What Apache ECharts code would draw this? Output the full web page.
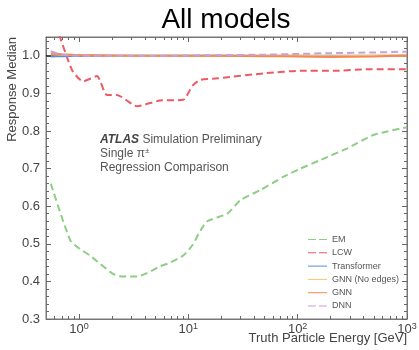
<!DOCTYPE html>
<html>
<head>
<meta charset="utf-8">
<script src="https://cdn.jsdelivr.net/npm/echarts@6/dist/echarts.min.js"></script>
<style>
  html, body { margin: 0; padding: 0; background: #fff; }
  #chart { width: 419px; height: 350px; }
</style>
</head>
<body>
<div id="chart"></div>
<script>
// values
const emEnergy = [0.553, 0.83, 1.0, 1.26, 1.56, 2.05, 2.53, 3.4, 4.2, 5.5, 6.8, 9, 10.9, 12.9, 14.9, 22.7, 30, 45.6, 74, 106, 162, 285, 500, 1000];
const emMedian = [0.66, 0.51, 0.488, 0.469, 0.447, 0.42, 0.413, 0.413, 0.422, 0.44, 0.45, 0.469, 0.496, 0.535, 0.56, 0.58, 0.616, 0.643, 0.678, 0.70, 0.723, 0.754, 0.79, 0.81];

const lcwEnergy = [0.553, 0.67, 0.776, 0.88, 1.09, 1.46, 1.8, 2.22, 3.4, 5.5, 9, 10.9, 12.9, 18.5, 52, 106, 214, 437, 1000];
const lcwMedian = [1.11, 1.05, 0.997, 0.958, 0.932, 0.946, 0.896, 0.896, 0.866, 0.881, 0.883, 0.92, 0.936, 0.94, 0.954, 0.96, 0.96, 0.964, 0.964];

const mlEnergy = [0.553, 0.7, 1, 2, 5, 10, 20, 50, 100, 200, 500, 1000];
const transformerMedian = [0.998, 0.999, 1.0, 1.0, 1.0, 1.0, 1.0, 1.0, 1.0, 1.0, 1.0, 1.0];
const gnnNoEdgesMedian = [1.004, 1.003, 1.002, 1.001, 1.0, 1.0, 1.0, 1.0, 1.0, 0.999, 1.0, 1.001];
const gnnMedian = [1.006, 1.004, 1.002, 1.001, 1.0, 1.0, 1.0, 0.999, 0.998, 0.997, 0.998, 1.001];
const dnnMedian = [1.012, 1.003, 1.0, 1.0, 1.0, 1.001, 1.002, 1.003, 1.005, 1.007, 1.009, 1.011];
const refLine = [1.0, 1.0];
const refEnergy = [0.5, 1000];

const xMajor = [1, 10, 100, 1000];
const xMinor = [0.6, 0.7, 0.8, 0.9, 2, 3, 4, 5, 6, 7, 8, 9, 20, 30, 40, 50, 60, 70, 80, 90, 200, 300, 400, 500, 600, 700, 800, 900];

const FONT = "Liberation Sans";
const GREY = "#444";
const TICK = "#666";
const DASH_ICON = "path://M0,0h8v1h-8zM11,0h8v1h-8z";
const LINE_ICON = "path://M0,0h19v1h-19z";

function pairs(xs, ys) {
  return xs.map((x, i) => [x, ys[i]]);
}

function makeSeries(name, xs, ys, color, dashed) {
  return {
    name: name,
    type: "line",
    data: pairs(xs, ys),
    symbol: "none",
    smooth: 0.2,
    lineStyle: { color: color, width: 2, type: dashed ? [7, 4] : "solid" },
    itemStyle: { color: color },
  };
}

const chart = echarts.init(document.getElementById("chart"));

const logMin = Math.log10(0.5);

// tick-only axes, in log units, for the minor ticks of the log axis
function minorAxis(pos) {
  return {
    type: "value",
    position: pos,
    min: logMin,
    max: 3,
    axisLine: { show: false, onZero: false },
    splitLine: { show: false },
    axisLabel: { show: false },
    axisTick: {
      show: true,
      inside: true,
      length: 3,
      lineStyle: { color: TICK },
      customValues: xMinor.map((v) => Math.log10(v)),
    },
  };
}

function majorLogAxis(pos, labels) {
  return {
    type: "log",
    position: pos,
    min: 0.5,
    max: 1000,
    logBase: 10,
    axisLine: { show: true, onZero: false, lineStyle: { color: "#777" } },
    splitLine: { show: false },
    axisTick: {
      show: true,
      inside: true,
      length: 5,
      lineStyle: { color: TICK },
      customValues: xMajor,
    },
    axisLabel: {
      show: labels,
      customValues: xMajor,
      color: GREY,
      fontFamily: FONT,
      margin: 3,
      formatter: (v) => "{b|10}{s|" + Math.round(Math.log10(v)) + "}",
      rich: {
        b: { fontSize: 13, fontFamily: FONT, color: GREY, verticalAlign: "bottom", lineHeight: 14 },
        s: { fontSize: 9, fontFamily: FONT, color: GREY, verticalAlign: "top", lineHeight: 10, padding: [0, 0, 6, 0] },
      },
    },
  };
}

function yAxis(pos, labels) {
  return {
    type: "value",
    position: pos,
    min: 0.3,
    max: 1.05,
    interval: 0.1,
    axisLine: { show: true, onZero: false, lineStyle: { color: "#777" } },
    splitLine: { show: false },
    axisTick: { inside: true, length: 5, lineStyle: { color: TICK } },
    minorTick: { show: true, splitNumber: 5, length: 3, lineStyle: { color: TICK } },
    axisLabel: {
      show: labels,
      showMaxLabel: false,
      color: GREY,
      fontSize: 13,
      fontFamily: FONT,
      margin: 6,
      formatter: (v) => v.toFixed(1),
    },
  };
}

const xMain = majorLogAxis("bottom", true);
xMain.name = "Truth Particle Energy [GeV]";
xMain.nameLocation = "end";
xMain.nameGap = 0;
xMain.nameMoveOverlap = false;
xMain.nameTextStyle = {
  color: GREY, fontSize: 13, fontFamily: FONT,
  align: "right", verticalAlign: "top", padding: [13, 0, 0, 0],
};

const yMain = yAxis("left", true);
yMain.name = "Response Median";
yMain.nameLocation = "end";
yMain.nameRotate = 90;
yMain.nameGap = 0;
yMain.nameMoveOverlap = false;
yMain.nameTextStyle = {
  color: GREY, fontSize: 13, fontFamily: FONT,
  align: "right", verticalAlign: "bottom", padding: [0, 0, 27, 0],
};

const refS = {
  name: "ref",
  type: "line",
  data: pairs(refEnergy, refLine),
  symbol: "none",
  silent: true,
  z: 1,
  lineStyle: { color: "#000", width: 1 },
};
const emS = makeSeries("EM", emEnergy, emMedian, "#8fcc86", true);
const lcwS = makeSeries("LCW", lcwEnergy, lcwMedian, "#ec5a64", true);
const trS = makeSeries("Transformer", mlEnergy, transformerMedian, "#5a8fd6", false);
const gneS = makeSeries("GNN (No edges)", mlEnergy, gnnNoEdgesMedian, "#f9c66a", false);
const gnnS = makeSeries("GNN", mlEnergy, gnnMedian, "#f58a50", false);
const dnnS = makeSeries("DNN", mlEnergy, dnnMedian, "#c9a0d8", true);

chart.setOption({
  animation: false,
  title: {
    text: "All models",
    left: 221,
    textAlign: "center",
    top: 1,
    textStyle: { fontSize: 28, fontWeight: "normal", color: "#000", fontFamily: FONT },
  },
  grid: {
    left: 46,
    right: 12,
    top: 37,
    bottom: 31,
    outerBoundsMode: "none",
    containLabel: false,
    show: true,
    borderColor: "#777",
    borderWidth: 1,
  },
  xAxis: [xMain, minorAxis("bottom"), majorLogAxis("top", false), minorAxis("top")],
  yAxis: [yMain, yAxis("right", false)],
  legend: {
    orient: "vertical",
    left: 303,
    top: 229,
    itemWidth: 19,
    itemHeight: 3,
    itemGap: 2.3,
    textStyle: { color: "#555", fontSize: 9, lineHeight: 11, fontFamily: FONT },
    data: [
      { name: "EM", icon: DASH_ICON },
      { name: "LCW", icon: DASH_ICON },
      { name: "Transformer", icon: LINE_ICON },
      { name: "GNN (No edges)", icon: LINE_ICON },
      { name: "GNN", icon: LINE_ICON },
      { name: "DNN", icon: DASH_ICON },
    ],
  },
  graphic: [
    {
      type: "text",
      left: 100,
      top: 133,
      style: {
        text: "{b|ATLAS} Simulation Preliminary\nSingle π{s|±}\nRegression Comparison",
        fill: "#555",
        font: "12px " + FONT,
        lineHeight: 14,
        rich: {
          b: { fontWeight: "bold", fontStyle: "italic", fontSize: 12, fontFamily: FONT, fill: "#444" },
          s: { fontSize: 8, fontFamily: FONT, verticalAlign: "top", fill: "#555" },
        },
      },
    },
  ],
  series: [refS, emS, lcwS, trS, gneS, gnnS, dnnS],
});
</script>
</body>
</html>
